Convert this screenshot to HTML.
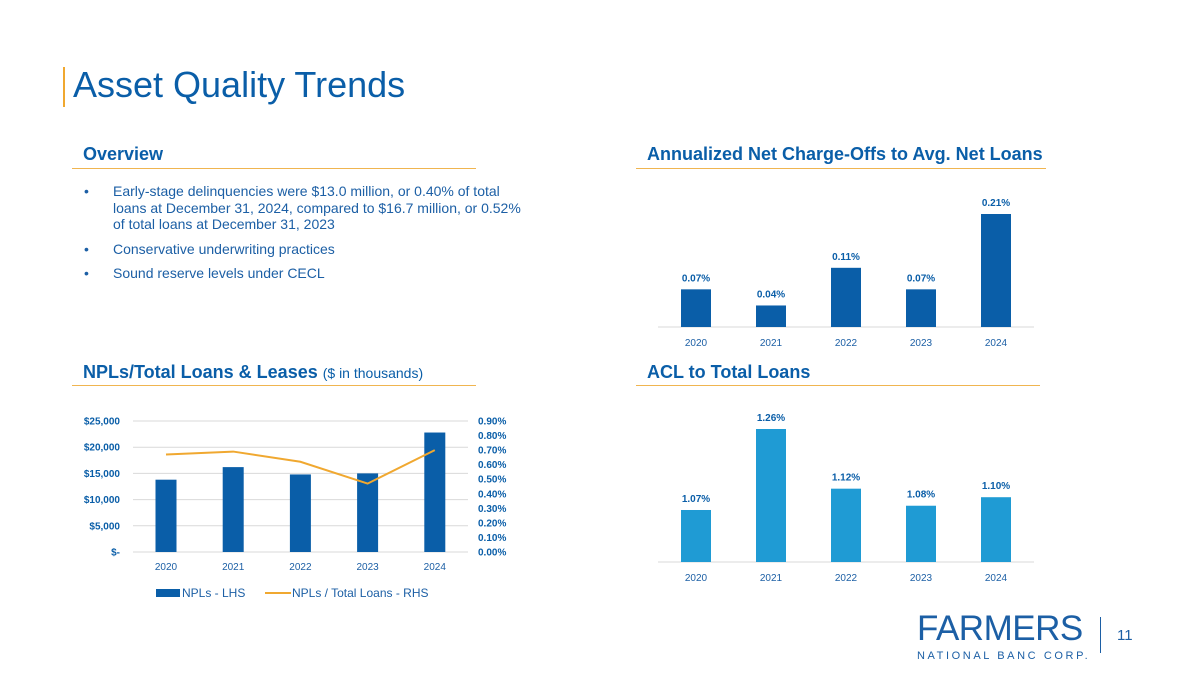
<!DOCTYPE html>
<html><head><meta charset="utf-8"><style>
html,body{margin:0;padding:0;width:1200px;height:675px;overflow:hidden;background:#fff;font-family:"Liberation Sans",sans-serif;}
.abs{position:absolute;}
.h{color:#0a5ea8;font-weight:bold;font-size:18px;}
.rule{position:absolute;height:1px;background:#f0b550;}
ul{margin:0;padding:0;list-style:none;}
li{position:relative;padding-left:35px;color:#1c5fa5;font-size:14px;line-height:16.5px;margin-bottom:8px;}
li:before{content:"•";position:absolute;left:6px;}
svg text{font-family:"Liberation Sans",sans-serif;}
</style></head><body>
<div class="abs" style="left:63px;top:67px;width:2px;height:40px;background:#f0a830;"></div>
<div class="abs" style="left:73px;top:64px;font-size:36px;color:#0a5ea8;">Asset Quality Trends</div>

<div class="abs h" style="left:83px;top:144px;">Overview</div>
<div class="rule" style="left:72px;top:168px;width:404px;"></div>
<ul class="abs" style="left:78px;top:183px;width:450px;">
<li>Early-stage delinquencies were $13.0 million, or 0.40% of total loans at December 31, 2024, compared to $16.7 million, or 0.52% of total loans at December 31, 2023</li>
<li>Conservative underwriting practices</li>
<li>Sound reserve levels under CECL</li>
</ul>

<div class="abs h" style="left:647px;top:144px;">Annualized Net Charge-Offs to Avg. Net Loans</div>
<div class="rule" style="left:636px;top:168px;width:410px;"></div>

<div class="abs h" style="left:83px;top:362px;">NPLs/Total Loans &amp; Leases <span style="font-weight:normal;font-size:14px;">($ in thousands)</span></div>
<div class="rule" style="left:72px;top:385px;width:404px;"></div>

<div class="abs h" style="left:647px;top:362px;">ACL to Total Loans</div>
<div class="rule" style="left:636px;top:385px;width:404px;"></div>

<svg id="chart" class="abs" style="left:0;top:0" width="1200" height="675"></svg>

<div class="abs" style="left:917px;top:611px;">
<div style="font-size:35px;color:#1c5fa5;line-height:36px;letter-spacing:-0.5px;">FARMERS</div>
<div style="font-size:11px;color:#1c5fa5;letter-spacing:2.6px;margin-top:3px;">NATIONAL BANC CORP.</div>
</div>
<div class="abs" style="left:1100px;top:617px;width:1px;height:36px;background:#1c5fa5;"></div>
<div class="abs" style="left:1117px;top:627px;font-size:15px;color:#1c5fa5;">11</div>

<script>
const years = ["2020","2021","2022","2023","2024"];
const ncoValues = [0.07,0.04,0.11,0.07,0.21];
const aclValues = [1.07,1.26,1.12,1.08,1.10];
const nplValues = [13800,16200,14800,15000,22800];
const nplRatio = [0.67,0.69,0.62,0.47,0.70];
const leftTicks = [0,5000,10000,15000,20000,25000];
const leftTickLabels = ["$-","$5,000","$10,000","$15,000","$20,000","$25,000"];
const rightTicks = [0,0.1,0.2,0.3,0.4,0.5,0.6,0.7,0.8,0.9];

const svg = document.getElementById('chart');
const NS = 'http://www.w3.org/2000/svg';
function mk(tag, attrs, text){const e=document.createElementNS(NS,tag);for(const k in attrs)e.setAttribute(k,attrs[k]);if(text!==undefined)e.textContent=text;svg.appendChild(e);return e;}

// NCO chart
const ncoX = i => 696 + i*75;
const ncoY = v => 327 - v/0.21*113;
let e = mk('line',{x1:658,x2:1034,y1:327,y2:327,stroke:'#d9d9d9','stroke-width':1});


ncoValues.forEach((v,i)=>{
  const b = mk('rect',{x:ncoX(i)-15,y:ncoY(v),width:30,height:327-ncoY(v),fill:'#0a5ea8'});
  
  
  const t = mk('text',{x:ncoX(i),y:ncoY(v)-8,'text-anchor':'middle','font-size':10,'font-weight':'bold',fill:'#0a5ea8'},v.toFixed(2)+'%');
  
  
  const x = mk('text',{x:ncoX(i),y:346,'text-anchor':'middle','font-size':10,fill:'#1c5fa5'},years[i]);
  
  
});

// ACL chart
const aclMin = 0.948, aclMax = 1.26;
const aclX = i => 696 + i*75;
const aclY = v => 562 - (v-aclMin)/(aclMax-aclMin)*133;
e = mk('line',{x1:658,x2:1034,y1:562,y2:562,stroke:'#d9d9d9','stroke-width':1});


aclValues.forEach((v,i)=>{
  const b = mk('rect',{x:aclX(i)-15,y:aclY(v),width:30,height:562-aclY(v),fill:'#1f9bd4'});
  
  
  const t = mk('text',{x:aclX(i),y:aclY(v)-8,'text-anchor':'middle','font-size':10,'font-weight':'bold',fill:'#0a5ea8'},v.toFixed(2)+'%');
  
  
  const x = mk('text',{x:aclX(i),y:581,'text-anchor':'middle','font-size':10,fill:'#1c5fa5'},years[i]);
  
  
});

// NPL chart
const nplX = i => 166 + i*67.2;
const nplY = v => 552 - v/25000*131;
const rY = v => 552 - v/0.9*131;
leftTicks.forEach((v,i)=>{
  const g = mk('line',{x1:133,x2:468,y1:nplY(v),y2:nplY(v),stroke:'#d9d9d9','stroke-width':1});
  
  
  const t = mk('text',{x:120,y:nplY(v)+3.5,'text-anchor':'end','font-size':10,'font-weight':'bold',fill:'#0a5ea8'},leftTickLabels[i]);
  
  
});
rightTicks.forEach(v=>{
  const t = mk('text',{x:478,y:rY(v)+3.5,'font-size':10,'font-weight':'bold',fill:'#0a5ea8'},v.toFixed(2)+'%');
  
  
});
nplValues.forEach((v,i)=>{
  const b = mk('rect',{x:nplX(i)-10.5,y:nplY(v),width:21,height:552-nplY(v),fill:'#0a5ea8'});
  
  
  const x = mk('text',{x:nplX(i),y:570,'text-anchor':'middle','font-size':10,fill:'#1c5fa5'},years[i]);
  
  
});
const pts = nplRatio.map((v,i)=>nplX(i)+','+rY(v)).join(' ');
const ln = mk('polyline',{points:pts,fill:'none',stroke:'#f0a830','stroke-width':2});


// legend
e = mk('rect',{x:156,y:589,width:24,height:8,fill:'#0a5ea8'});


e = mk('text',{x:182,y:597,'font-size':12,fill:'#1c5fa5'},'NPLs - LHS');


e = mk('line',{x1:265,x2:291,y1:593,y2:593,stroke:'#f0a830','stroke-width':2});


e = mk('text',{x:292,y:597,'font-size':12,fill:'#1c5fa5'},'NPLs / Total Loans - RHS');


</script>
</body></html>
